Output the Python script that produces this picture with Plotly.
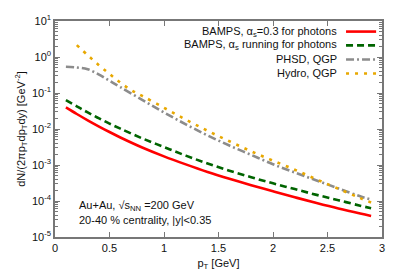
import plotly.graph_objects as go

pt_grid = [0.1, 0.2, 0.3, 0.4, 0.5, 0.6, 0.8, 1.0, 1.2, 1.4, 1.6, 1.8, 2.0, 2.2, 2.4, 2.6, 2.8, 2.9]
bamps_const = [0.0398, 0.0261, 0.01746, 0.01189, 0.00824, 0.00582, 0.00307, 0.00174, 0.00104, 0.000641,
               0.000414, 0.000276, 0.000187, 0.000127, 0.0000877, 0.0000618, 0.0000448, 0.0000385]
bamps_running = [0.0631, 0.0427, 0.0288, 0.0200, 0.0141, 0.0102, 0.0055, 0.00316, 0.00182, 0.00110,
                 0.000692, 0.000457, 0.000309, 0.000214, 0.000148, 0.000105, 0.0000741, 0.0000631]
phsd = [0.537, 0.513, 0.457, 0.331, 0.219, 0.145, 0.0646, 0.0288, 0.0135, 0.00661,
        0.00347, 0.00191, 0.00105, 0.000617, 0.000372, 0.000224, 0.000135, 0.000110]
pt_hydro = [0.2, 0.3, 0.4, 0.5, 0.6, 0.7, 0.8, 1.0, 1.2, 1.4, 1.6, 1.8, 2.0, 2.2, 2.4, 2.6, 2.8, 2.9]
hydro = [2.14, 1.12, 0.603, 0.339, 0.195, 0.120, 0.0832, 0.0389, 0.0182, 0.00891,
         0.00457, 0.00240, 0.00132, 0.000741, 0.000398, 0.000219, 0.000120, 0.0000912]

x_ticks = [0, 0.5, 1, 1.5, 2, 2.5, 3]
y_ticks = [1e-5, 1e-4, 1e-3, 1e-2, 1e-1, 1e0, 1e1]
y_ticktext = ["10<sup>-5</sup>", "10<sup>-4</sup>", "10<sup>-3</sup>", "10<sup>-2</sup>",
              "10<sup>-1</sup>", "10<sup>0</sup>", "10<sup>1</sup>"]

legend_labels = ["BAMPS, α<sub>s</sub>=0.3 for photons",
                 "BAMPS, α<sub>s</sub> running for photons",
                 "PHSD, QGP", "Hydro, QGP"]
colors = ["#ff0000", "#006400", "#8c8c8c", "#e8a800"]
dashes = ["solid", "7px,4px", "8px,3px,2px,3px", "3px,6px"]

FONT = "Liberation Sans, Arial, sans-serif"

fig = go.Figure()
series = [(pt_grid, bamps_const), (pt_grid, bamps_running), (pt_grid, phsd), (pt_hydro, hydro)]
for (xs, ys), c, d, name in zip(series, colors, dashes, legend_labels):
    fig.add_trace(go.Scatter(x=xs, y=ys, mode="lines", name=name, showlegend=False,
                             line=dict(color=c, width=2.6, dash=d, shape="spline")))

# custom legend (text right-aligned, sample to the right)
leg_y = [0.951, 0.887, 0.822, 0.757]
for lab, c, d, yy in zip(legend_labels, colors, dashes, leg_y):
    fig.add_annotation(x=0.869, y=yy, xref="paper", yref="paper", text=lab, showarrow=False,
                       xanchor="right", yanchor="middle", font=dict(size=11, color="#111", family=FONT))
    fig.add_shape(type="line", xref="paper", yref="paper", x0=0.89, x1=0.982, y0=yy, y1=yy,
                  line=dict(color=c, width=2.6, dash=d))

fig.add_annotation(x=0.067, y=0.144, xref="paper", yref="paper",
                   text="Au+Au, √s<sub>NN</sub> =200 GeV", showarrow=False,
                   xanchor="left", yanchor="middle", font=dict(size=11, color="#111", family=FONT))
fig.add_annotation(x=0.067, y=0.080, xref="paper", yref="paper",
                   text="20-40 % centrality, |y|<0.35", showarrow=False,
                   xanchor="left", yanchor="middle", font=dict(size=11, color="#111", family=FONT))

axis_common = dict(showline=True, linecolor="#777", linewidth=1.5, mirror="allticks",
                   ticks="inside", tickcolor="#777", showgrid=False, zeroline=False,
                   automargin=False,
                   tickfont=dict(size=11, color="#111", family=FONT))

fig.update_xaxes(range=[0, 3], tickvals=x_ticks, ticktext=[str(v) for v in x_ticks], ticklen=5,
                 title=dict(text="p<sub>T</sub> [GeV]", font=dict(size=11, color="#111", family=FONT),
                            standoff=6),
                 **axis_common)
fig.update_yaxes(type="log", range=[-5, 1], tickvals=y_ticks, ticktext=y_ticktext, ticklen=5,
                 minor=dict(ticks="inside", ticklen=3, tickcolor="#777", dtick="D1", showgrid=False),
                 title=dict(text="dN/(2πp<sub>T</sub>dp<sub>T</sub>dy) [GeV<sup>-2</sup>]",
                            font=dict(size=11, color="#111", family=FONT), standoff=4),
                 **axis_common)

fig.update_layout(width=395, height=276, margin=dict(l=47, r=21, t=13, b=47),
                  plot_bgcolor="white", paper_bgcolor="white", template="none",
                  font=dict(family=FONT, size=11, color="#111"))

fig.write_html("out.html")
